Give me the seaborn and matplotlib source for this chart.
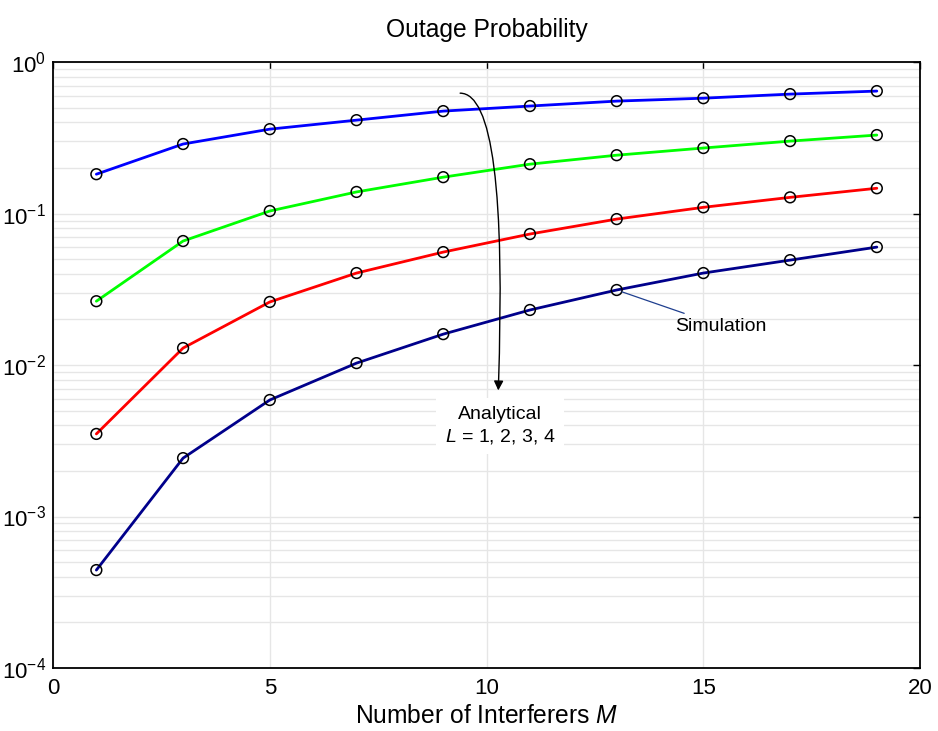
import numpy as np
import pandas as pd
import seaborn as sns
import matplotlib.pyplot as plt
from matplotlib.ticker import LogLocator, NullFormatter

# -----------------------------
# DATA
# -----------------------------
interferers = [1, 3, 5, 7, 9, 11, 13, 15, 17, 19]
outage_L1 = [0.182, 0.288, 0.361, 0.414, 0.475, 0.513, 0.553, 0.578, 0.615, 0.644]
outage_L2 = [0.0264, 0.0659, 0.104, 0.139, 0.174, 0.212, 0.243, 0.271, 0.301, 0.330]
outage_L3 = [0.00351, 0.01295, 0.0261, 0.0405, 0.0557, 0.0733, 0.092, 0.110, 0.128, 0.147]
outage_L4 = [0.000443, 0.00243, 0.00588, 0.0103, 0.0160, 0.0231, 0.0313, 0.0405, 0.0493, 0.0601]
line_colors = ['#0000ff', '#00ff00', '#ff0000', '#00008b']

df = pd.DataFrame({
    'M': interferers * 4,
    'Pout': outage_L1 + outage_L2 + outage_L3 + outage_L4,
    'L': sum([[l] * len(interferers) for l in ['1', '2', '3', '4']], []),
})

# -----------------------------
# STYLE
# -----------------------------
sns.set_style('white')
plt.rcParams['font.family'] = ['Liberation Sans', 'DejaVu Sans']
plt.rcParams['mathtext.fontset'] = 'custom'
plt.rcParams['mathtext.rm'] = 'Liberation Sans'
plt.rcParams['mathtext.it'] = 'Liberation Sans:italic'
for key in ['text.color', 'axes.labelcolor', 'xtick.color', 'ytick.color']:
    plt.rcParams[key] = 'black'

fig = plt.figure(figsize=(9.38, 7.31), dpi=100)
ax = fig.add_axes([0.0565, 0.0862, 0.9245, 0.8288])

# analytical lines
sns.lineplot(data=df, x='M', y='Pout', hue='L', palette=line_colors,
             linewidth=2, legend=False, ax=ax, zorder=3)
# simulation markers
sns.scatterplot(data=df, x='M', y='Pout', marker='o', s=60,
                facecolor='none', edgecolor='black', linewidth=1.1,
                legend=False, ax=ax, zorder=4)

ax.set_yscale('log')
ax.set_xlim(0, 20)
ax.set_ylim(1e-4, 1)
ax.set_xticks([0, 5, 10, 15, 20])
ax.yaxis.set_major_locator(LogLocator(base=10, numticks=10))
ax.yaxis.set_minor_locator(LogLocator(base=10, subs=np.arange(2, 10), numticks=100))
ax.yaxis.set_minor_formatter(NullFormatter())

ax.grid(True, which='major', color='#e6e6e6', linewidth=1)
ax.grid(True, which='minor', axis='y', color='#e6e6e6', linewidth=1)
ax.set_axisbelow(True)

ax.tick_params(which='major', direction='in', length=5, width=1,
               top=True, right=True, labelsize=16)
ax.tick_params(axis='x', pad=7)
ax.tick_params(axis='y', pad=5)
ax.tick_params(which='minor', length=0)
for sp in ax.spines.values():
    sp.set_color('black')
    sp.set_linewidth(1.3)

ax.set_xlabel('Number of Interferers $M$', fontsize=17.7, labelpad=4)
ax.set_ylabel('')
ax.set_title('Outage Probability', fontsize=17.7, pad=18)

# curved arrow for analytical curves
ax.annotate('', xy=(10.27, 0.0068), xytext=(9.39, 0.624),
            arrowprops=dict(arrowstyle='-|>', color='black', lw=1,
                            mutation_scale=14, shrinkA=0, shrinkB=0,
                            connectionstyle='angle3,angleA=0,angleB=88'),
            zorder=5)
ax.text(10.31, 0.00396, 'Analytical\n$L$ = 1, 2, 3, 4', fontsize=14,
        ha='center', va='center', linespacing=1.25,
        bbox=dict(facecolor='white', edgecolor='none', pad=6), zorder=5)

# simulation label
ax.annotate('Simulation', xy=(13.0, 0.0313), xytext=(14.35, 0.0181),
            fontsize=14, va='center', ha='left',
            arrowprops=dict(arrowstyle='-', color='#1f3f8f', lw=0.9,
                            shrinkA=2, shrinkB=4),
            zorder=5)

fig.savefig('out.png', dpi=100)
